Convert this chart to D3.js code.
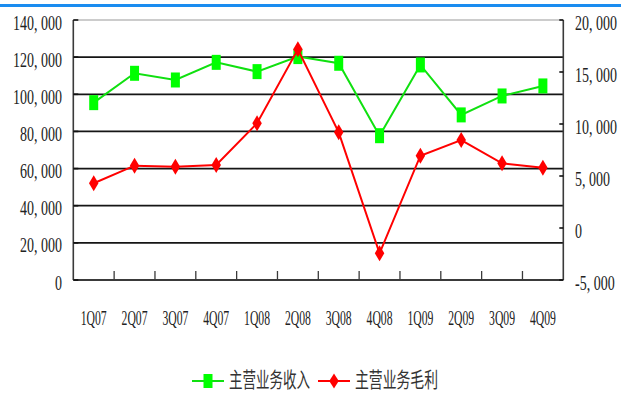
<!DOCTYPE html>
<html>
<head>
<meta charset="utf-8">
<script src="https://cdn.jsdelivr.net/npm/d3@7"></script>
<style>
  html, body { margin: 0; padding: 0; background: #fff; }
  svg { display: block; }
</style>
</head>
<body>
<svg id="chart" width="621" height="396"></svg>
<script>
// Quarterly main-business revenue (left axis) and gross profit (right axis)
const quarters = ["1Q07","2Q07","3Q07","4Q07","1Q08","2Q08","3Q08","4Q08","1Q09","2Q09","3Q09","4Q09"];
const revenue = [95500, 111300, 107700, 117200, 112200, 120300, 116700, 77700, 115800, 88900, 99100, 104500];
const grossProfit = [4300, 5990, 5900, 6060, 10070, 17180, 9200, -2430, 6950, 8460, 6220, 5800];
const leftTicks = [0, 20000, 40000, 60000, 80000, 100000, 120000, 140000];
const rightTicks = [-5000, 0, 5000, 10000, 15000, 20000];
const seriesNames = ["主营业务收入", "主营业务毛利"];

(function draw() {
  const svg = d3.select("#chart");
  const plotL = 73.3, plotR = 563.3, plotT = 20, plotB = 280;
  const SY = 1.55; // vertical stretch of the label glyphs

  const x = d3.scaleBand().domain(quarters).range([plotL, plotR]);
  const yL = d3.scaleLinear().domain([0, 140000]).range([plotB, plotT]);
  const yR = d3.scaleLinear().domain([-5000, 20000]).range([plotB, plotT]);
  const cx = q => x(q) + x.bandwidth() / 2;
  const fmt = v => d3.format(",")(v).replace(/,/g, ", ").replace("−", "-");

  // top accent bar
  svg.append("rect").attr("x", 0).attr("y", 4).attr("width", 621).attr("height", 3).attr("fill", "#1a8cf0");

  // horizontal gridlines on the left scale
  svg.append("g").selectAll("line").data(leftTicks.filter(d => d > 0)).join("line")
    .attr("x1", plotL).attr("x2", plotR)
    .attr("y1", d => yL(d)).attr("y2", d => yL(d))
    .attr("stroke", d => d === 140000 ? "#9a9a9a" : "#151515")
    .attr("stroke-width", d => d === 140000 ? 1.2 : 1.8);

  // axis frame
  const axisColor = "#3a3a3a";
  svg.append("line").attr("x1", plotL).attr("x2", plotL).attr("y1", plotT).attr("y2", plotB)
    .attr("stroke", axisColor).attr("stroke-width", 1.6);
  svg.append("line").attr("x1", plotR).attr("x2", plotR).attr("y1", plotT).attr("y2", plotB)
    .attr("stroke", axisColor).attr("stroke-width", 1.6);
  svg.append("line").attr("x1", plotL).attr("x2", plotR).attr("y1", plotB).attr("y2", plotB)
    .attr("stroke", axisColor).attr("stroke-width", 2);

  // inward ticks on both value axes
  svg.append("g").selectAll("line").data(leftTicks).join("line")
    .attr("x1", plotL).attr("x2", plotL + 5).attr("y1", d => yL(d)).attr("y2", d => yL(d))
    .attr("stroke", "#111").attr("stroke-width", 1.6);
  svg.append("g").selectAll("line").data(rightTicks).join("line")
    .attr("x1", plotR - 4).attr("x2", plotR).attr("y1", d => yR(d)).attr("y2", d => yR(d))
    .attr("stroke", "#111").attr("stroke-width", 1.6);

  // category boundary ticks
  svg.append("g").selectAll("line").data(quarters.slice(1)).join("line")
    .attr("x1", d => x(d)).attr("x2", d => x(d)).attr("y1", plotB).attr("y2", plotB - 9)
    .attr("stroke", axisColor).attr("stroke-width", 1.3);

  // stretched text helper
  function label(g, tx, ty, str, anchor, font, size, len, color) {
    const t = g.append("g").attr("transform", `translate(${tx},${ty}) scale(1,${SY})`)
      .append("text").attr("x", 0).attr("y", 0)
      .attr("text-anchor", anchor).attr("font-family", font).attr("font-size", size)
      .attr("fill", color || "#222").text(str);
    if (len) t.attr("textLength", len).attr("lengthAdjust", "spacingAndGlyphs");
    return t;
  }
  const serif = "'Liberation Serif', 'DejaVu Serif', serif";

  const labels = svg.append("g");
  leftTicks.forEach(v => label(labels, 62, yL(v) + 9.5, fmt(v), "end", serif, 14));
  rightTicks.forEach(v => label(labels, 575, yR(v) + 10, fmt(v), "start", serif, 14));
  quarters.forEach(q => label(labels, cx(q), 325, q, "middle", serif, 14, 26));

  // marker shapes
  const rectW = 9, rectH = 15, diaW = 9.5, diaH = 16;
  const diamond = (px, py, w, h) => `M${px},${py - h / 2}L${px + w / 2},${py}L${px},${py + h / 2}L${px - w / 2},${py}Z`;

  // revenue series (left axis)
  const green = "#00ff00";
  svg.append("path").datum(quarters.map((q, i) => [cx(q), yL(revenue[i])]))
    .attr("d", d3.line()).attr("fill", "none").attr("stroke", "#10e010").attr("stroke-width", 2);
  svg.append("g").selectAll("rect").data(revenue).join("rect")
    .attr("x", (d, i) => cx(quarters[i]) - rectW / 2).attr("y", d => yL(d) - rectH / 2)
    .attr("width", rectW).attr("height", rectH).attr("fill", green);

  // gross profit series (right axis)
  const red = "#ff0000";
  svg.append("path").datum(quarters.map((q, i) => [cx(q), yR(grossProfit[i])]))
    .attr("d", d3.line()).attr("fill", "none").attr("stroke", red).attr("stroke-width", 2);
  svg.append("g").selectAll("path").data(grossProfit).join("path")
    .attr("d", (d, i) => diamond(cx(quarters[i]), yR(d), diaW, diaH)).attr("fill", red);

  // legend
  const legend = svg.append("g");
  const ly = 381;
  legend.append("line").attr("x1", 192).attr("x2", 224).attr("y1", ly).attr("y2", ly)
    .attr("stroke", "#10e010").attr("stroke-width", 2);
  legend.append("rect").attr("x", 208 - rectW / 2).attr("y", ly - 7).attr("width", rectW).attr("height", 14).attr("fill", green);
  legend.append("line").attr("x1", 318).attr("x2", 350).attr("y1", ly).attr("y2", ly)
    .attr("stroke", red).attr("stroke-width", 2);
  legend.append("path").attr("d", diamond(334, ly, diaW, 15)).attr("fill", red);
  const cjk = "'Noto Sans CJK SC', 'Noto Sans CJK JP', sans-serif";
  label(legend, 229, 386.5, seriesNames[0], "start", cjk, 13.5, 81, "#333");
  label(legend, 355, 386.5, seriesNames[1], "start", cjk, 13.5, 83, "#333");
})();
</script>
</body>
</html>
